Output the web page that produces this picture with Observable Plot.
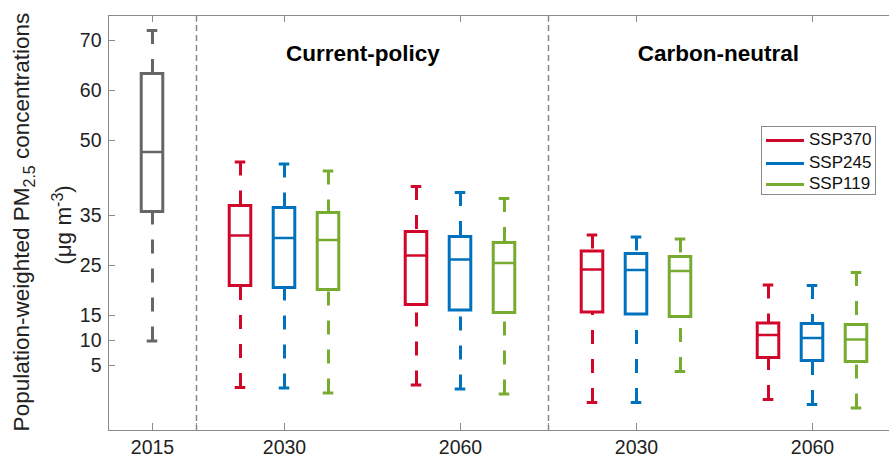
<!DOCTYPE html>
<html><head><meta charset="utf-8">
<script src="https://cdn.jsdelivr.net/npm/d3@7"></script>
<script src="https://cdn.jsdelivr.net/npm/@observablehq/plot@0.6"></script>
<style>
body{margin:0;background:#fff;font-family:"Liberation Sans",Arial,Helvetica,sans-serif}
#wrap{position:relative;width:889px;height:458px;overflow:hidden}
#legend{position:absolute;left:761px;top:126px;width:115px;height:69px;border:1px solid #8a8a8a;background:#fff;box-sizing:border-box;font-size:17px;color:#111}
#legend .row{position:absolute;left:4px;height:20px;display:flex;align-items:center}
#legend .sw{width:38px;height:3px;margin-right:5px}
</style>
</head><body><div id="wrap"></div>
<script>
// ---- data ----
const periods = ["2015", "CP-2030", "CP-2060", "CN-2030", "CN-2060"];
const periodLabels = ["2015", "2030", "2060", "2030", "2060"];
const scenarios = ["SSP370", "SSP245", "SSP119"];
const groupTitles = ["Current-policy", "Carbon-neutral"];
const yTicks = [5, 10, 15, 25, 35, 50, 60, 70];

// 2015 baseline box (min, q1, median, q3, max)
const base2015 = [9.9, 35.7, 47.7, 63.3, 72.0];

// rows: CP-2030, CP-2060, CN-2030, CN-2060 ; columns: SSP370, SSP245, SSP119
const whiskerLow = [[0.6, 0.5, -0.5], [1.1, 0.3, -0.7], [-2.4, -2.4, 3.8], [-1.8, -2.8, -3.5]];
const quart1     = [[20.9, 20.5, 20.1], [17.1, 16.0, 15.5], [15.6, 15.2, 14.7], [6.5, 5.9, 5.7]];
const medians    = [[31.0, 30.5, 30.1], [27.0, 26.2, 25.5], [24.2, 24.1, 23.9], [11.1, 10.5, 10.2]];
const quart3     = [[36.9, 36.5, 35.5], [31.7, 30.7, 29.5], [27.8, 27.3, 26.7], [13.4, 13.3, 13.1]];
const whiskerHigh= [[45.7, 45.3, 43.9], [40.8, 39.6, 38.4], [31.1, 30.7, 30.3], [21.1, 21.0, 23.6]];

// ---- layout / style ----
const periodPos = [1, 4, 8, 12, 16];
const scenarioOffset = [-1, 0, 1];
const dividers = [2, 10];
const colors = {"2015": "#666666", SSP370: "#D1062B", SSP245: "#0072BD", SSP119: "#77AC30"};
const halfBox = 0.245, halfCap = 0.12;
const titlePos = [{x: 5.78, y: 67.3}, {x: 13.86, y: 67.3}];

const rows = [{x: periodPos[0], s: "2015", lo: base2015[0], q1: base2015[1], med: base2015[2], q3: base2015[3], hi: base2015[4]}];
for (let p = 0; p < 4; p++) for (let k = 0; k < 3; k++) {
  rows.push({x: periodPos[p + 1] + scenarioOffset[k], s: scenarios[k],
    lo: whiskerLow[p][k], q1: quart1[p][k], med: medians[p][k], q3: quart3[p][k], hi: whiskerHigh[p][k]});
}
const col = d => colors[d.s];
const allTicks = [1, 2, 4, 8, 10, 12, 16];
const titles = groupTitles.map((t, i) => ({t, ...titlePos[i]}));
const frameColor = "#8a8a8a";
const lw = 3;

const plot = Plot.plot({
  width: 889, height: 458,
  marginLeft: 108, marginRight: 0, marginTop: 15, marginBottom: 28,
  x: {domain: [0, 17.75]},
  y: {domain: [-8, 75]},
  color: {type: "identity"},
  style: {fontFamily: '"Liberation Sans", Arial, Helvetica, sans-serif', fontSize: "19.5px", color: "#222", background: "#fff"},
  marks: [
    Plot.ruleX(dividers, {x: d => d, stroke: "#888", strokeWidth: 1.5, strokeDasharray: "6,4"}),
    // frame
    Plot.ruleX([0], {stroke: frameColor, strokeWidth: 1}),
    Plot.ruleY([-8, 75], {stroke: frameColor, strokeWidth: 1}),
    // inward ticks
    Plot.ruleY(yTicks, {y: d => d, x1: 0, x2: 7 / 44, stroke: frameColor}),
    Plot.ruleX(allTicks, {x: d => d, y1: -8, y2: -8 + 1.4, stroke: frameColor}),
    Plot.ruleX(allTicks, {x: d => d, y1: 75, y2: 75 - 1.4, stroke: frameColor}),
    // whiskers (dashed, drawn from cap toward box)
    Plot.ruleX(rows, {x: "x", y1: "hi", y2: "q3", stroke: col, strokeWidth: lw, strokeDasharray: "14,15"}),
    Plot.ruleX(rows, {x: "x", y1: "lo", y2: "q1", stroke: col, strokeWidth: lw, strokeDasharray: "14,15"}),
    // caps
    Plot.ruleY(rows, {y: "hi", x1: d => d.x - halfCap, x2: d => d.x + halfCap, stroke: col, strokeWidth: lw}),
    Plot.ruleY(rows, {y: "lo", x1: d => d.x - halfCap, x2: d => d.x + halfCap, stroke: col, strokeWidth: lw}),
    // boxes
    Plot.rect(rows, {x1: d => d.x - halfBox, x2: d => d.x + halfBox, y1: "q1", y2: "q3", fill: "none", stroke: col, strokeWidth: lw}),
    Plot.ruleY(rows, {y: "med", x1: d => d.x - halfBox, x2: d => d.x + halfBox, stroke: col, strokeWidth: 2.5}),
    // axes
    Plot.axisY({ticks: yTicks, tickFormat: d => String(d), tickSize: 0, tickPadding: 7, label: null, fill: "#222"}),
    Plot.axisX({ticks: periodPos, tickFormat: d => periodLabels[periodPos.indexOf(d)], tickSize: 0, tickPadding: 10, label: null, fill: "#222"}),
    // group titles
    Plot.text(titles, {x: "x", y: "y", text: "t", fontWeight: "bold", fontSize: 22.5, fill: "#000"})
  ]
});
document.getElementById("wrap").appendChild(plot);

// y-axis title with subscript/superscript
const svg = d3.select(plot);
const g = svg.append("g").attr("font-size", 22.5).attr("fill", "#222");
const t1 = g.append("text").attr("transform", "translate(29,222) rotate(-90)").attr("text-anchor", "middle");
t1.append("tspan").text("Population-weighted PM");
t1.append("tspan").attr("dy", 6).attr("font-size", 16).text("2.5");
t1.append("tspan").attr("dy", -6).text(" concentrations");
const t2 = g.append("text").attr("transform", "translate(71,225) rotate(-90)").attr("text-anchor", "middle");
t2.append("tspan").text("(μg m");
t2.append("tspan").attr("dy", -8).attr("font-size", 16).text("-3");
t2.append("tspan").attr("dy", 8).text(")");

// legend
const leg = document.createElement("div");
leg.id = "legend";
const rowTops = [3, 26, 47];
scenarios.forEach((s, i) => {
  const r = document.createElement("div");
  r.className = "row";
  r.style.top = rowTops[i] + "px";
  r.innerHTML = `<span class="sw" style="background:${colors[s]}"></span><span>${s}</span>`;
  leg.appendChild(r);
});
document.getElementById("wrap").appendChild(leg);
</script>
</body></html>
